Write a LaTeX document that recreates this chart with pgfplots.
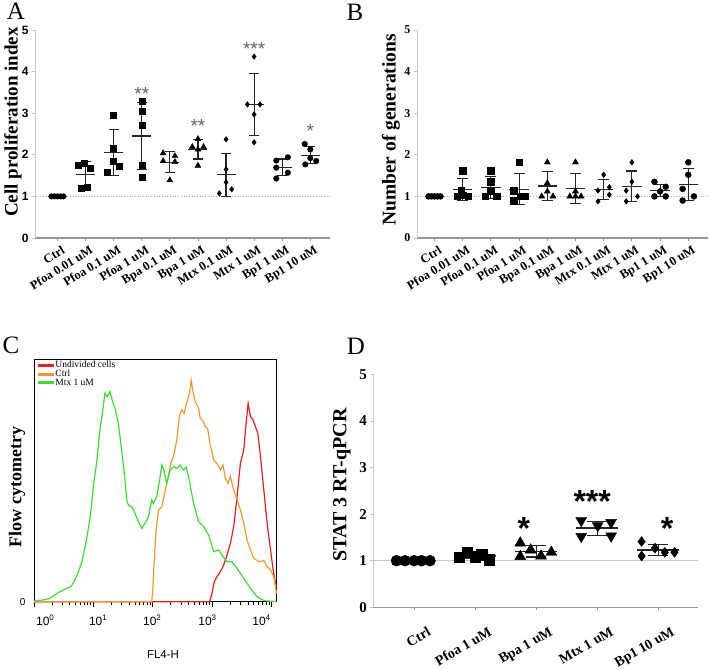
\documentclass[border=0pt]{standalone}
\usepackage{pgfplots}
\pgfplotsset{compat=1.18}
\usepackage{pgfplotstable}
\usepackage{fontspec}
\setmainfont{Liberation Serif}
\setsansfont{Liberation Sans}

\definecolor{axisgray}{RGB}{150,150,150}
\definecolor{lightaxis}{RGB}{200,200,200}
\definecolor{refgray}{RGB}{175,175,175}
\definecolor{stargray}{RGB}{100,100,100}
\definecolor{undivred}{RGB}{230,30,30}
\definecolor{ctrlorange}{RGB}{246,152,48}
\definecolor{mtxgreen}{RGB}{60,222,50}

\newcommand{\fs}[1]{\fontsize{#1}{#1}\selectfont}

% group means and standard deviations
\pgfplotstableread{
x m sd
0 1.00 0.00
1 1.53 0.30
2 2.05 0.55
3 2.45 0.80
4 1.82 0.25
5 2.13 0.23
6 1.52 0.52
7 3.21 0.75
8 1.70 0.20
9 1.99 0.21
}\meansA

\pgfplotstableread{
x m sd
0 1.00 0.00
1 1.16 0.26
2 1.22 0.26
3 1.17 0.37
4 1.25 0.34
5 1.19 0.36
6 1.16 0.24
7 1.24 0.37
8 1.14 0.15
9 1.28 0.38
}\meansB

\pgfplotstableread{
x m sd
0 1.00 0.00
1 1.10 0.06
2 1.20 0.12
3 1.70 0.15
4 1.23 0.12
}\meansD

\pgfplotsset{
  dotpanel/.style={
    scale only axis,
    axis lines=left,
    axis line style={-},
    x axis line style={axisgray, line width=1.5pt},
    y axis line style={lightaxis, line width=0.8pt},
    tick align=outside,
    major tick length=3pt,
    xtick style={axisgray, line width=0.8pt},
    ytick style={lightaxis, line width=0.8pt},
    ymin=0, ymax=5, ytick={0,1,2,3,4,5},
    /pgf/number format/assume math mode=true,
    clip=false,
  },
  meanbar/.style 2 args={
    only marks, mark=-, mark size=#1,
    mark options={black!85, line width=1.3pt},
    error bars/.cd, y dir=both, y explicit,
    error bar style={black!85, line width=1.1pt},
    error mark options={rotate=90, black!85, mark size=#2, line width=1.1pt}},
  pts/.style={only marks, mark options={fill=black, draw=black}},
}

\begin{document}
\begin{tikzpicture}
\useasboundingbox (0pt,0pt) rectangle (709pt,669pt);

% ---------------- A: proliferation index ----------------
\begin{axis}[dotpanel,
  at={(35pt,431pt)}, anchor=south west,
  width=295pt, height=208pt,
  xmin=-0.8, xmax=9.7,
  xtick={0,...,9},
  xticklabels={Ctrl, Pfoa 0.01 uM, Pfoa 0.1 uM, Pfoa 1 uM, Bpa 0.1 uM, Bpa 1 uM, Mtx 0.1 uM, Mtx 1 uM, Bp1 1 uM, Bp1 10 uM},
  xticklabel style={font=\bfseries\fs{12.5}, rotate=32, anchor=north east, inner sep=1pt, yshift=-4pt, xshift=2pt},
  yticklabel style={font=\sffamily\bfseries\fs{12}},
]
\addplot[refgray, dotted, line width=0.7pt] coordinates {(-0.8,1) (9.7,1)};
\addplot[meanbar={9.5pt}{5pt}] table[x=x, y=m, y error=sd] {\meansA};
\addplot[pts, mark=*, mark size=2.8pt] coordinates {(-0.21,1) (-0.11,1) (0,1) (0.11,1) (0.21,1)};
\addplot[pts, mark=square*, mark size=3pt] coordinates {(0.73,1.74) (0.96,1.80) (1.17,1.68) (0.85,1.19) (1.05,1.23)};
\addplot[pts, mark=square*, mark size=3pt] coordinates {(1.78,1.58) (2.21,1.72) (2,2.17) (2,1.85) (2,2.94)};
\addplot[pts, mark=square*, mark size=3pt] coordinates {(3,3.28) (3,3.04) (3,2.72) (3,1.74) (3,1.47)};
\addplot[pts, mark=triangle*, mark size=3.4pt] coordinates {(3.76,2.04) (4.18,1.97) (3.76,1.85) (4.18,1.83) (4,1.39)};
\addplot[pts, mark=triangle*, mark size=3.4pt] coordinates {(5,2.38) (4.8,2.19) (5.2,2.19) (5,2.13) (5,1.74)};
\addplot[pts, mark=diamond*, mark size=2.8pt] coordinates {(6,2.37) (6,1.65) (6,1.34) (5.76,1.07) (6.2,1.17)};
\addplot[pts, mark=diamond*, mark size=2.8pt] coordinates {(7,4.36) (6.76,3.21) (7.21,3.21) (7,2.97) (7,2.30)};
\addplot[pts, mark=*, mark size=2.8pt] coordinates {(7.79,1.86) (8.2,1.94) (7.79,1.69) (8.2,1.57) (7.79,1.43)};
\addplot[pts, mark=*, mark size=2.8pt] coordinates {(8.8,2.26) (9,2.13) (8.82,1.77) (9,1.92) (9.21,1.85)};
\begin{scope}[every node/.style={font=\sffamily\fs{19}, text=stargray, anchor=base, yshift=-11pt}]
\node at (axis cs:3,3.58) {**};
\node at (axis cs:5,2.79) {**};
\node at (axis cs:7,4.66) {***};
\node at (axis cs:9,2.69) {*};
\end{scope}
\end{axis}

% ---------------- B: number of generations ----------------
\begin{axis}[dotpanel,
  at={(417pt,431pt)}, anchor=south west,
  width=291pt, height=208pt,
  xmin=-0.62, xmax=9.7,
  xtick={0,...,9},
  xticklabels={Ctrl, Pfoa 0.01 uM, Pfoa 0.1 uM, Pfoa 1 uM, Bpa 0.1 uM, Bpa 1 uM, Mtx 0.1 uM, Mtx 1 uM, Bp1 1 uM, Bp1 10 uM},
  xticklabel style={font=\bfseries\fs{12.5}, rotate=32, anchor=north east, inner sep=1pt, yshift=-4pt, xshift=2pt},
  yticklabel style={font=\bfseries\fs{12}},
]
\addplot[refgray, dotted, line width=0.7pt] coordinates {(-0.62,1) (9.7,1)};
\addplot[meanbar={9.7pt}{5.5pt}] table[x=x, y=m, y error=sd] {\meansB};
\addplot[pts, mark=*, mark size=3pt] coordinates {(-0.21,1) (-0.11,1) (0,1) (0.11,1) (0.21,1)};
\addplot[pts, mark=square*, mark size=3.3pt] coordinates {(1,1.62) (0.95,1.14) (0.8,1.0) (1.2,1.0) (1,1.03)};
\addplot[pts, mark=square*, mark size=3.3pt] coordinates {(2,1.62) (2,1.35) (2,1.14) (1.8,1.0) (2.2,1.0)};
\addplot[pts, mark=square*, mark size=3.3pt] coordinates {(3,1.82) (2.8,1.14) (3.05,1.0) (3.2,1.0) (2.8,0.9)};
\addplot[pts, mark=triangle*, mark size=3.5pt] coordinates {(4,1.82) (4,1.32) (4,1.12) (3.8,1.0) (4.2,1.0)};
\addplot[pts, mark=triangle*, mark size=3.5pt] coordinates {(5,1.82) (5,1.12) (4.8,1.0) (5,1.0) (5.2,1.0)};
\addplot[pts, mark=diamond*, mark size=2.8pt] coordinates {(6,1.52) (6.2,1.22) (5.8,1.14) (6.2,1.04) (5.8,0.88)};
\addplot[pts, mark=diamond*, mark size=2.8pt] coordinates {(7,1.82) (7,1.35) (6.8,1.14) (7.2,1.0) (6.8,0.88)};
\addplot[pts, mark=*, mark size=3pt] coordinates {(7.8,1.35) (8.2,1.23) (8,1.12) (7.8,1.0) (8.2,1.0)};
\addplot[pts, mark=*, mark size=3pt] coordinates {(9,1.82) (9,1.52) (8.8,1.18) (9.2,1.0) (8.8,0.9)};
\end{axis}

% ---------------- C: flow cytometry histogram ----------------
\begin{axis}[
  at={(34pt,67.3pt)}, anchor=south west,
  scale only axis, width=242.4pt, height=242.4pt,
  xmin=0, xmax=4.08, ymin=0, ymax=100,
  axis line style={black, line width=0.9pt},
  tick align=outside,
  xtick pos=lower, ytick pos=left,
  xtick={0,1,2,3,4}, xticklabels={},
  minor xtick={0.301,0.477,0.602,0.699,0.778,0.845,0.903,0.954,
               1.301,1.477,1.602,1.699,1.778,1.845,1.903,1.954,
               2.301,2.477,2.602,2.699,2.778,2.845,2.903,2.954,
               3.301,3.477,3.602,3.699,3.778,3.845,3.903,3.954},
  major tick length=5pt, minor tick length=3pt,
  tick style={black, line width=0.7pt},
  ytick={0}, yticklabels={0}, ytick style={draw=none},
  extra x ticks={0.19,1.08,1.99,2.92,3.83},
  extra x tick labels={10\textsuperscript{0},10\textsuperscript{1},10\textsuperscript{2},10\textsuperscript{3},10\textsuperscript{4}},
  extra x tick style={major tick length=0pt, xticklabel style={yshift=-10pt}},
  xticklabel style={font=\sffamily\fs{12}},
  yticklabel style={font=\sffamily\fs{10}},
  clip=false,
  legend cell align=left,
  legend style={at={(0.005,0.995)}, anchor=north west, draw=none, fill=none,
    font=\fs{9.5}, inner sep=0.5pt, row sep=0pt,
    nodes={inner sep=0.3pt, text height=6.4pt, text depth=1.6pt}},
  legend image code/.code={\draw[line width=3.2pt] (0pt,0pt) -- (16pt,0pt);},
]
\addplot[undivred, line width=1.2pt] coordinates {
(0,0) (2.956,0) (2.995,3.44) (3.035,8.25) (3.080,10.32) (3.136,12.38) (3.193,15.13)
(3.249,19.26) (3.305,24.07) (3.361,30.95) (3.418,43.33) (3.474,57.08) (3.530,62.59)
(3.570,73.59) (3.604,81.84) (3.643,76.34) (3.688,74.97) (3.727,72.21) (3.767,69.46)
(3.812,59.84) (3.868,46.08) (3.924,32.32) (3.981,21.32) (4.026,13.07) (4.065,7.57) (4.082,6.19)};
\addplot[ctrlorange, line width=1.2pt] coordinates {
(0,0) (1.982,0) (1.999,4.81) (2.021,15.82) (2.055,29.57) (2.095,37.83) (2.151,39.2)
(2.235,48.83) (2.303,57.08) (2.348,59.84) (2.404,66.71) (2.449,77.03) (2.489,79.09)
(2.528,77.72) (2.573,82.53) (2.618,85.97) (2.646,91.47) (2.675,86.66) (2.714,82.53)
(2.770,79.78) (2.798,75.65) (2.838,74.97) (2.883,72.21) (2.922,71.53) (2.967,64.65)
(3.024,58.46) (3.080,57.08) (3.136,54.33) (3.181,56.40) (3.221,50.89) (3.266,48.83)
(3.305,51.58) (3.361,46.08) (3.418,41.95) (3.474,37.83) (3.530,32.32) (3.587,25.45)
(3.643,21.32) (3.699,17.88) (3.784,16.51) (3.868,16.92) (3.924,14.44) (3.981,13.07)
(4.037,10.32) (4.082,3.44)};
\addplot[mtxgreen, line width=1.2pt] coordinates {
(0,0.41) (0.152,0.69) (0.265,1.38) (0.349,2.75) (0.434,4.13) (0.518,5.09) (0.631,6.46)
(0.715,10.32) (0.800,15.82) (0.873,24.07) (0.912,29.57) (0.968,39.2) (0.997,47.46)
(1.053,57.08) (1.109,70.84) (1.166,80.47) (1.194,85.97) (1.233,84.59) (1.278,86.66)
(1.323,82.53) (1.363,79.78) (1.419,73.59) (1.475,62.59) (1.532,50.21) (1.560,41.95)
(1.588,39.89) (1.644,39.2) (1.700,36.45) (1.757,33.01) (1.813,30.26) (1.869,32.32)
(1.926,35.08) (1.982,41.95) (2.010,40.58) (2.066,43.33) (2.123,51.58) (2.151,56.40)
(2.179,55.02) (2.235,48.83) (2.292,54.33) (2.348,55.71) (2.404,55.02) (2.461,56.40)
(2.517,54.33) (2.562,55.43) (2.601,51.58) (2.686,40.58) (2.770,33.01) (2.855,30.95)
(2.939,27.51) (3.024,20.63) (3.108,21.32) (3.181,18.57) (3.249,16.51) (3.333,16.51)
(3.418,13.76) (3.530,9.63) (3.643,5.50) (3.756,2.06) (3.868,0.41) (4.082,0)};
\legend{Undivided cells, Ctrl, Mtx 1 uM}
\end{axis}

% ---------------- D: STAT3 expression ----------------
\begin{axis}[dotpanel,
  at={(373.3pt,61.7pt)}, anchor=south west,
  width=325pt, height=233pt,
  xmin=-0.67, xmax=4.66,
  xtick={0,...,4},
  xticklabels={Ctrl, Pfoa 1 uM, Bpa 1 uM, Mtx 1 uM, Bp1 10 uM},
  xticklabel style={font=\bfseries\fs{14}, rotate=30, anchor=north east, inner sep=1pt, yshift=-19pt, xshift=4pt},
  yticklabel style={font=\bfseries\fs{15}},
  y axis line style={lightaxis, line width=0.8pt},
  x axis line style={axisgray, line width=1.2pt},
]
\addplot[lightaxis, line width=0.8pt] coordinates {(-0.67,1) (4.66,1)};
\addplot[meanbar={20.8pt}{9.7pt}] table[x=x, y=m, y error=sd] {\meansD};
\addplot[pts, mark=*, mark size=5.5pt] coordinates {(-0.29,1) (-0.15,1) (0,1) (0.12,1) (0.26,1)};
\addplot[pts, mark=square*, mark size=5.2pt] coordinates {(0.74,1.07) (0.87,1.18) (1,1.09) (1.11,1.13) (1.23,1.02)};
\addplot[pts, mark=triangle*, mark size=6.3pt] coordinates {(1.74,1.38) (1.74,1.09) (1.91,1.23) (2.08,1.10) (2.25,1.18)};
\addplot[pts, mark=triangle*, mark size=6.3pt, mark options={rotate=180}] coordinates {(2.74,1.86) (3.01,1.75) (3.23,1.82) (2.74,1.52) (3.23,1.53)};
\addplot[pts, mark=diamond*, mark size=5pt] coordinates {(3.73,1.41) (3.73,1.10) (3.95,1.27) (4.11,1.18) (4.27,1.18)};
\begin{scope}[every node/.style={font=\sffamily\bfseries\fs{32}, anchor=base, yshift=-18.4pt}]
\node at (axis cs:1.8,1.85) {*};
\node at (axis cs:2.92,2.42) {***};
\node at (axis cs:4.15,1.85) {*};
\end{scope}
\end{axis}

% axis titles and panel letters
\node[rotate=90, font=\bfseries\fs{19}] at (13pt,547pt) {Cell proliferation index};
\node[rotate=90, font=\bfseries\fs{19.5}] at (391pt,539pt) {Number of generations};
\node[rotate=90, font=\bfseries\fs{18}] at (17pt,182pt) {Flow cytometry};
\node[rotate=90, font=\bfseries\fs{20}] at (342pt,184pt) {STAT 3 RT-qPCR};
\node[font=\sffamily\fs{11.5}] at (163pt,14pt) {FL4-H};
\node[font=\fs{25}] at (16pt,657.5pt) {A};
\node[font=\fs{25}] at (355pt,657pt) {B};
\node[font=\fs{25}] at (11pt,324pt) {C};
\node[font=\fs{25}] at (356pt,323pt) {D};
\end{tikzpicture}
\end{document}
